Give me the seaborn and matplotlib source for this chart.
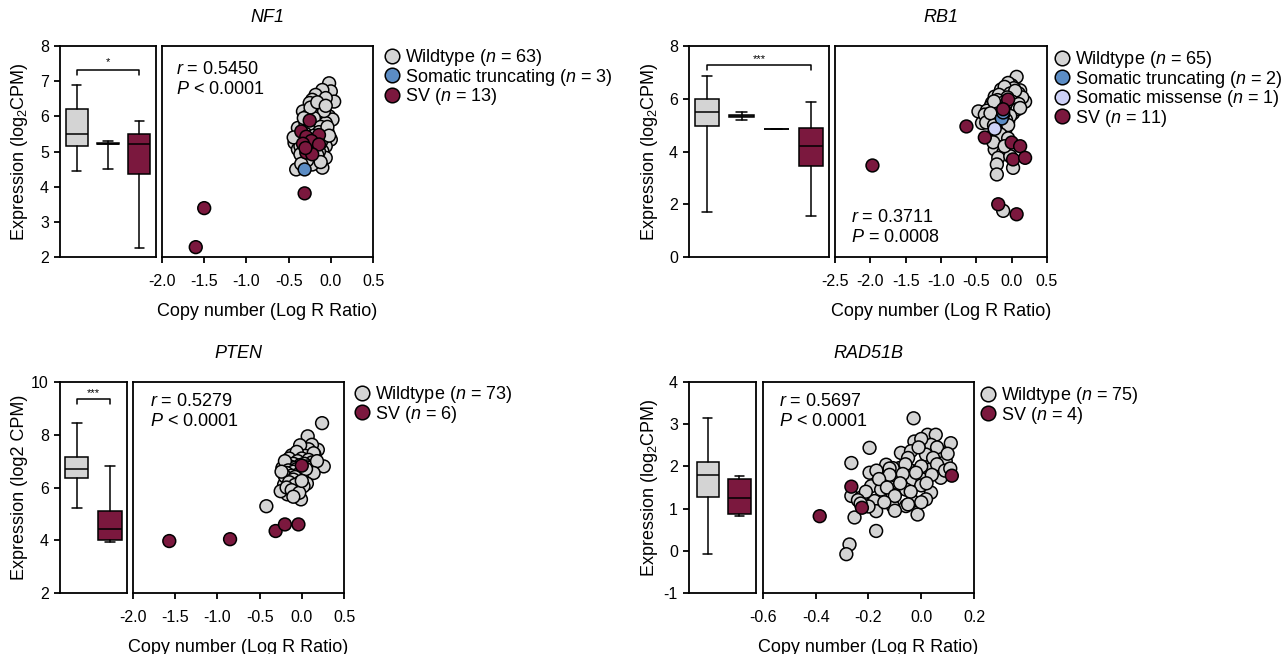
import numpy as np
import pandas as pd
import matplotlib
matplotlib.use("Agg")
import matplotlib.pyplot as plt
from matplotlib.lines import Line2D
import seaborn as sns

sns.set_style("ticks")
plt.rcParams["font.family"] = ["Liberation Sans", "DejaVu Sans"]
plt.rcParams["mathtext.fontset"] = "custom"
plt.rcParams["mathtext.rm"] = "Liberation Sans"
plt.rcParams["mathtext.it"] = "Liberation Sans:italic"
plt.rcParams["axes.unicode_minus"] = False
for key in ["text.color", "axes.labelcolor", "xtick.color", "ytick.color"]:
    plt.rcParams[key] = "black"

W, H = 1287, 654

COLORS = {"Wildtype": "#d4d4d4", "Somatic truncating": "#5b8cc4",
          "Somatic missense": "#cdd1f7", "SV": "#7b183e"}
BOX_FILL = {"Wildtype": "#d4d4d4", "Somatic truncating": "white",
            "Somatic missense": "white", "SV": "#7b183e"}

# ---------------- NF1 ----------------
nf1_groups = ["Wildtype", "Somatic truncating", "SV"]
nf1_counts = [63, 3, 13]
nf1_wt_x = [-0.02, 0.00, 0.04, -0.10, -0.18, -0.22, -0.06, -0.12, -0.25, -0.33,
            -0.22, -0.02, -0.10, 0.02, -0.16, -0.06, -0.39, -0.22, -0.04, -0.37,
            0.00, -0.43, -0.06, -0.39, -0.10, -0.33, -0.18, -0.06, -0.41, -0.10,
            -0.22, -0.15, -0.28, -0.08, -0.20, -0.30, -0.12, -0.26, -0.14, -0.30,
            -0.20, -0.08, -0.34, -0.18, -0.26, -0.12, -0.36, -0.20, -0.28, -0.14,
            -0.24, -0.36, -0.16, -0.28, -0.12, -0.35, -0.04, -0.24, -0.16, -0.06,
            -0.32, -0.02, -0.44]
nf1_wt_y = [6.94, 6.71, 6.42, 6.75, 6.61, 6.47, 6.52, 6.28, 6.38, 6.14,
            6.10, 6.00, 5.91, 5.91, 5.81, 5.81, 5.67, 5.67, 5.57, 5.43,
            5.34, 5.25, 5.15, 5.06, 5.01, 4.82, 4.82, 4.82, 4.49, 4.54,
            4.63, 6.20, 6.00, 6.15, 5.95, 5.80, 5.70, 5.62, 5.55, 5.50,
            5.45, 5.40, 5.35, 5.30, 5.20, 5.25, 5.15, 5.10, 5.05, 5.00,
            4.95, 4.92, 4.90, 4.75, 4.70, 4.65, 5.70, 6.25, 6.40, 6.30,
            5.95, 5.45, 5.40]
nf1_trunc_x = [-0.25, -0.18, -0.31]
nf1_trunc_y = [5.22, 5.30, 4.49]
nf1_sv_x = [-1.60, -1.50, -0.31, -0.25, -0.35, -0.29, -0.14, -0.23, -0.33, -0.14, -0.29, -0.22, -0.30]
nf1_sv_y = [2.28, 3.39, 3.81, 5.88, 5.57, 5.42, 5.47, 5.30, 5.22, 5.20, 4.97, 4.92, 5.10]
nf1_whislo = [4.45, 4.50, 2.25]
nf1_q1 = [5.15, 5.20, 4.35]
nf1_med = [5.50, 5.22, 5.20]
nf1_q3 = [6.20, 5.25, 5.50]
nf1_whishi = [6.90, 5.30, 5.87]

# ---------------- RB1 ----------------
rb1_groups = ["Wildtype", "Somatic truncating", "Somatic missense", "SV"]
rb1_counts = [65, 2, 1, 11]
rb1_wt_x = [0.07, 0.00, 0.12, -0.09, -0.24, 0.07, 0.19, -0.28, 0.05, -0.47,
            -0.24, 0.02, -0.33, -0.42, -0.05, -0.09, -0.28, -0.14, -0.24, -0.12,
            -0.19, -0.02, -0.21, 0.02, -0.21, -0.12,
            -0.05, 0.03, -0.15, 0.10, -0.10, -0.02, 0.15, -0.18, 0.05, -0.06,
            -0.20, 0.00, -0.12, 0.10, -0.30, -0.05, -0.18, 0.08, -0.35, -0.10,
            -0.25, 0.12,
            -0.15, -0.38, -0.02, -0.20, -0.28, -0.08, -0.36, -0.15, -0.25, -0.05,
            -0.12, -0.30,
            -0.22, -0.16, -0.05, -0.26, -0.10]
rb1_wt_y = [6.83, 6.51, 6.32, 6.26, 6.08, 6.14, 5.89, 5.84, 5.77, 5.52,
            5.58, 5.45, 5.27, 5.08, 5.14, 4.83, 4.58, 4.45, 4.08, 3.95,
            3.76, 3.82, 3.51, 3.38, 3.13, 1.75,
            6.60, 6.40, 6.35, 6.20, 6.45, 6.20, 6.05, 6.15, 6.30, 6.05,
            5.95, 5.90, 5.85, 5.80, 5.70, 5.70, 5.65, 5.60, 5.55, 5.55,
            5.90, 5.65,
            5.45, 5.40, 5.35, 5.30, 5.20, 5.20, 5.10, 5.05, 5.00, 5.00,
            5.40, 5.45,
            4.80, 4.65, 4.50, 4.35, 4.20]
rb1_trunc_x = [-0.14, -0.12]
rb1_trunc_y = [5.25, 5.48]
rb1_mis_x = [-0.24]
rb1_mis_y = [4.86]
rb1_sv_x = [-1.97, -0.64, -0.05, -0.12, -0.38, 0.00, 0.12, 0.02, 0.19, -0.19, 0.07]
rb1_sv_y = [3.47, 4.95, 5.97, 5.60, 4.53, 4.34, 4.20, 3.70, 3.76, 2.00, 1.62]
rb1_whislo = [1.72, 5.20, 4.86, 1.55]
rb1_q1 = [4.95, 5.30, 4.86, 3.45]
rb1_med = [5.50, 5.35, 4.86, 4.20]
rb1_q3 = [6.00, 5.40, 4.86, 4.90]
rb1_whishi = [6.85, 5.50, 4.86, 5.88]

# ---------------- PTEN ----------------
pten_groups = ["Wildtype", "SV"]
pten_counts = [73, 6]
pten_wt_x = [0.24, 0.07, 0.19, 0.26, -0.05, -0.11, -0.19, -0.23, 0.11, -0.13,
             0.03, -0.21, -0.05, -0.17, -0.01, -0.25, -0.42, 0.12, 0.15,
             0.00, -0.03, 0.05, -0.08, 0.10, 0.02, -0.12, 0.08, -0.02, 0.04, 0.14, -0.06,
             -0.15, 0.00, 0.08, -0.05, 0.12, -0.10, 0.03, -0.02, 0.07, -0.14, 0.10, -0.08,
             0.18, -0.20,
             -0.06, 0.02, -0.16, 0.06, -0.10, 0.00, -0.18, 0.09, -0.04, -0.12, 0.04, -0.20,
             0.00, -0.08, 0.14, -0.24, 0.05,
             -0.10, -0.02, -0.15, 0.06, -0.08, -0.18, 0.02, -0.12, -0.03, -0.10, 0.00]
pten_wt_y = [8.44, 7.94, 7.43, 6.80, 7.31, 7.06, 6.87, 6.74, 6.61, 6.43,
             6.30, 6.11, 5.99, 5.74, 5.55, 5.86, 5.29, 7.62, 7.25,
             7.50, 7.40, 7.30, 7.20, 7.35, 7.25, 7.22, 7.45, 7.60, 7.20, 7.30, 7.35,
             7.10, 7.10, 7.05, 7.00, 6.95, 6.90, 6.90, 6.85, 6.80, 6.80, 6.75, 6.75,
             7.00, 7.00,
             6.70, 6.68, 6.65, 6.60, 6.60, 6.55, 6.55, 6.50, 6.50, 6.45, 6.45, 6.42,
             6.40, 6.40, 6.55, 6.60, 6.70,
             6.30, 6.20, 6.20, 6.15, 6.10, 6.00, 6.05, 5.90, 5.80, 5.65, 6.25]
pten_sv_x = [-1.57, -0.85, -0.31, -0.20, -0.04, 0.00]
pten_sv_y = [3.97, 4.04, 4.35, 4.60, 4.60, 6.83]
pten_whislo = [5.22, 3.95]
pten_q1 = [6.37, 4.00]
pten_med = [6.72, 4.42]
pten_q3 = [7.17, 5.12]
pten_whishi = [8.45, 6.82]

# ---------------- RAD51B ----------------
rad_groups = ["Wildtype", "SV"]
rad_counts = [75, 4]
rad_wt_x = [-0.029, -0.196, -0.265, 0.024, 0.055, 0.112, -0.026, 0.037, 0.080, -0.077,
            -0.039, 0.018, 0.093, -0.133, -0.083, -0.045, -0.008, 0.030, 0.074, -0.196,
            -0.140, -0.095, -0.033, 0.005, -0.190, -0.152, -0.058, -0.108, -0.265, -0.228,
            -0.177, 0.037, 0.018, -0.033, -0.058, -0.108, -0.171, -0.014, -0.253, -0.171,
            -0.272, -0.284, -0.108,
            0.00, 0.06, -0.05, 0.10, -0.01, 0.045,
            -0.12, -0.06, 0.00, 0.06, -0.17, -0.02, 0.09, -0.07, 0.04, -0.12, 0.11,
            -0.16, -0.08, 0.00, -0.13, -0.04, 0.02, -0.21, -0.10,
            -0.24, -0.14, -0.05, -0.20, 0.00, -0.10, -0.23]
rad_wt_y = [3.14, 2.44, 2.08, 2.75, 2.75, 2.55, 2.59, 2.51, 2.32, 2.32,
            2.36, 2.28, 2.12, 2.04, 1.96, 1.92, 1.92, 1.92, 1.73, 1.85,
            1.81, 1.77, 1.69, 1.69, 1.53, 1.45, 1.45, 1.33, 1.30, 1.26,
            1.18, 1.38, 1.22, 1.18, 1.06, 1.06, 0.94, 0.86, 0.79, 0.47,
            0.15, -0.08, 1.96,
            2.65, 2.45, 2.20, 2.30, 2.45, 2.20,
            1.95, 2.05, 2.00, 2.05, 1.90, 1.85, 1.90, 1.82, 1.80, 1.80, 1.95,
            1.70, 1.60, 1.55, 1.50, 1.40, 1.60, 1.40, 1.30,
            1.20, 1.15, 1.10, 1.05, 1.15, 0.95, 1.12]
rad_sv_x = [-0.385, -0.265, -0.225, 0.116]
rad_sv_y = [0.82, 1.52, 1.02, 1.78]
rad_whislo = [-0.08, 0.82]
rad_q1 = [1.28, 0.87]
rad_med = [1.79, 1.25]
rad_q3 = [2.10, 1.70]
rad_whishi = [3.14, 1.77]

fig = plt.figure(figsize=(W / 100, H / 100), dpi=100)


def px_axes(l, t, r, b):
    return fig.add_axes([l / W, 1 - b / H, (r - l) / W, (b - t) / H])


def ftext(x, y, s, **kw):
    fig.text(x / W, 1 - y / H, s, **kw)


def style_frame(ax):
    for sp in ax.spines.values():
        sp.set_visible(True)
        sp.set_color("black")
        sp.set_linewidth(1.3)


def panel(gene, box_px, sc_px, groups, counts, points, whislo, q1, med, q3, whishi,
          box_xlim, ylim, yticks, xlim, xticks, stat_lines, stat_px, sig, ylabel, leg_px):
    # box plot part
    axb = px_axes(*box_px)
    style_frame(axb)
    stats = [dict(whislo=a, q1=b, med=c, q3=d, whishi=e, fliers=[])
             for a, b, c, d, e in zip(whislo, q1, med, q3, whishi)]
    bp = axb.bxp(stats, positions=range(len(groups)), widths=0.7, capwidths=0.3,
                 patch_artist=True, showfliers=False,
                 boxprops=dict(linewidth=1.1, edgecolor="black"),
                 medianprops=dict(color="black", linewidth=1.1),
                 whiskerprops=dict(color="black", linewidth=1.1),
                 capprops=dict(color="black", linewidth=1.1))
    for patch, g in zip(bp["boxes"], groups):
        patch.set_facecolor(BOX_FILL[g])
    axb.set_xlim(*box_xlim)
    axb.set_ylim(*ylim)
    axb.set_yticks(yticks)
    axb.set_yticklabels([str(v) for v in yticks])
    axb.set_xticks([])
    axb.tick_params(axis="y", direction="out", length=4, width=1.3, labelsize=11.5,
                    left=True, pad=4)
    if sig:
        x2 = len(groups) - 1
        y0, y1, ys = sig[1], sig[2], sig[3]
        axb.plot([0, 0, x2, x2], [y0, y1, y1, y0], color="black", lw=1.1)
        axb.text(x2 / 2, ys, sig[0], ha="center", va="center", fontsize=8)

    # scatter part
    axs = px_axes(*sc_px)
    style_frame(axs)
    rows = []
    for g in groups:
        xs, ys = points[g]
        rows.append(pd.DataFrame({"cn": xs, "expr": ys, "group": g}))
    df = pd.concat(rows, ignore_index=True)
    sns.scatterplot(data=df, x="cn", y="expr", hue="group", palette=COLORS,
                    s=85, edgecolor="black", linewidth=1.1, legend=False, ax=axs,
                    zorder=3)
    axs.set_xlim(*xlim)
    axs.set_ylim(*ylim)
    axs.set_yticks([])
    axs.set_xticks(xticks)
    axs.set_xticklabels([f"{v:.1f}" for v in xticks])
    axs.tick_params(axis="x", direction="out", length=4, width=1.3, labelsize=11.5,
                    bottom=True, pad=8)
    axs.set_xlabel("")
    axs.set_ylabel("")

    handles = [Line2D([], [], marker="o", linestyle="", markerfacecolor=COLORS[g],
                      markeredgecolor="black", markeredgewidth=1.1, markersize=10.5)
               for g in groups]
    labels = [f"{g} ($\\mathit{{n}}$ = {n})" for g, n in zip(groups, counts)]
    fig.legend(handles, labels, loc="upper left",
               bbox_to_anchor=(leg_px[0] / W, 1 - leg_px[1] / H),
               frameon=False, fontsize=13, handlelength=0.8, handletextpad=0.3,
               labelspacing=-0.08, borderpad=0, borderaxespad=0)

    # texts
    ctr = (sc_px[0] + sc_px[2]) / 2
    ftext(ctr, sc_px[1] - 28, gene, ha="center", va="center", style="italic", fontsize=13)
    ftext(ctr, sc_px[3] + 54, "Copy number (Log R Ratio)", ha="center", va="center",
          fontsize=13)
    ftext(box_px[0] - 40, (box_px[1] + box_px[3]) / 2, ylabel, ha="center", va="center",
          rotation=90, fontsize=13)
    ftext(stat_px[0], stat_px[1], stat_lines[0], ha="left", va="center", fontsize=13)
    ftext(stat_px[0], stat_px[1] + 20, stat_lines[1], ha="left", va="center", fontsize=13)


ylab = "Expression (log$_2$CPM)"

panel("NF1", (60, 46, 156, 257), (162, 46, 373, 257), nf1_groups, nf1_counts,
      {"Wildtype": (nf1_wt_x, nf1_wt_y), "Somatic truncating": (nf1_trunc_x, nf1_trunc_y),
       "SV": (nf1_sv_x, nf1_sv_y)},
      nf1_whislo, nf1_q1, nf1_med, nf1_q3, nf1_whishi,
      (-0.53, 2.53), (2, 8), [2, 3, 4, 5, 6, 7, 8], (-2.0, 0.5),
      [-2.0, -1.5, -1.0, -0.5, 0.0, 0.5],
      ["$\\mathit{r}$ = 0.5450", "$\\mathit{P}$ < 0.0001"], (176, 70),
      ("*", 7.18, 7.32, 7.55), ylab, (385, 47))

panel("RB1", (689, 46, 829, 257), (835, 46, 1047, 257), rb1_groups, rb1_counts,
      {"Wildtype": (rb1_wt_x, rb1_wt_y), "Somatic truncating": (rb1_trunc_x, rb1_trunc_y),
       "Somatic missense": (rb1_mis_x, rb1_mis_y), "SV": (rb1_sv_x, rb1_sv_y)},
      rb1_whislo, rb1_q1, rb1_med, rb1_q3, rb1_whishi,
      (-0.51, 3.51), (0, 8), [0, 2, 4, 6, 8], (-2.5, 0.5),
      [-2.5, -2.0, -1.5, -1.0, -0.5, 0.0, 0.5],
      ["$\\mathit{r}$ = 0.3711", "$\\mathit{P}$ = 0.0008"], (851, 218),
      ("***", 7.09, 7.28, 7.5), ylab, (1055, 49))

panel("PTEN", (60, 382, 127, 593), (133, 382, 344, 593), pten_groups, pten_counts,
      {"Wildtype": (pten_wt_x, pten_wt_y), "SV": (pten_sv_x, pten_sv_y)},
      pten_whislo, pten_q1, pten_med, pten_q3, pten_whishi,
      (-0.5, 1.51), (2, 10), [2, 4, 6, 8, 10], (-2.0, 0.5),
      [-2.0, -1.5, -1.0, -0.5, 0.0, 0.5],
      ["$\\mathit{r}$ = 0.5279", "$\\mathit{P}$ < 0.0001"], (150, 402),
      ("***", 9.17, 9.35, 9.58), "Expression (log2 CPM)", (355, 384))

panel("RAD51B", (689, 382, 756, 593), (763, 382, 974, 593), rad_groups, rad_counts,
      {"Wildtype": (rad_wt_x, rad_wt_y), "SV": (rad_sv_x, rad_sv_y)},
      rad_whislo, rad_q1, rad_med, rad_q3, rad_whishi,
      (-0.59, 1.52), (-1, 4), [-1, 0, 1, 2, 3, 4], (-0.6, 0.2),
      [-0.6, -0.4, -0.2, 0.0, 0.2],
      ["$\\mathit{r}$ = 0.5697", "$\\mathit{P}$ < 0.0001"], (779, 401),
      None, ylab, (981, 385))

fig.savefig("out.png", dpi=100)
